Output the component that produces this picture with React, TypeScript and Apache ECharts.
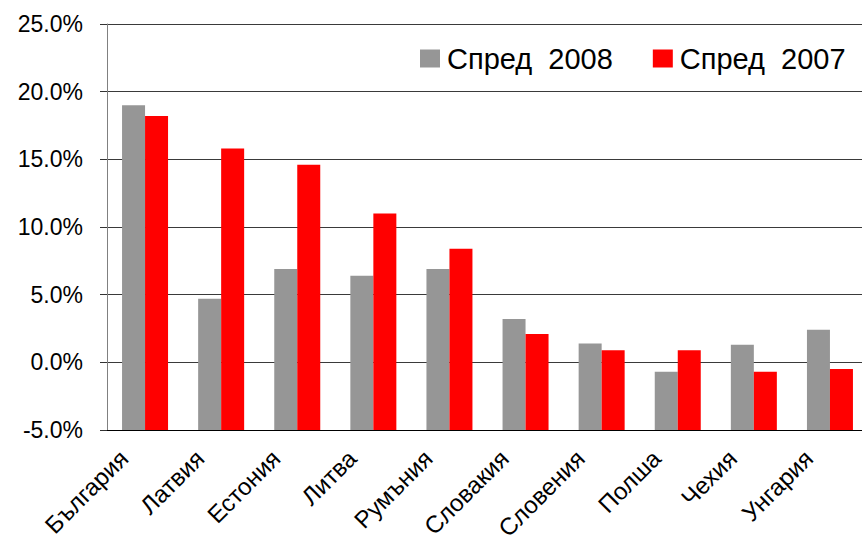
import React, { useEffect, useRef } from "react";
import * as echarts from "echarts";

const categories = ["България", "Латвия", "Естония", "Литва", "Румъния", "Словакия", "Словения", "Полша", "Чехия", "Унгария"];
const spread2008 = [19.0, 4.7, 6.9, 6.4, 6.9, 3.2, 1.4, -0.7, 1.3, 2.4];
const spread2007 = [18.2, 15.8, 14.6, 11.0, 8.4, 2.1, 0.9, 0.9, -0.7, -0.5];
const seriesNames = ["Спред  2008", "Спред  2007"];
const axisMin = -5;
const axisMax = 25;
const axisStep = 5;

const FONT = "'Liberation Sans', Arial, sans-serif";

export default function App() {
  const ref = useRef<HTMLDivElement>(null);
  useEffect(() => {
    document.body.style.margin = "0";
    const chart = echarts.init(ref.current!, null, { renderer: "svg" });
    // bars rise from the axis minimum (-5%), as in the original chart
    const shift = (arr: number[]) => arr.map((v) => +(v - axisMin).toFixed(3));
    chart.setOption({
      animation: false,
      backgroundColor: "#ffffff",
      textStyle: { fontFamily: FONT },
      legend: {
        left: 420,
        top: 44,
        padding: 0,
        itemWidth: 20,
        itemHeight: 18,
        itemGap: 40,
        icon: "rect",
        textStyle: { fontSize: 29, color: "#000", fontFamily: FONT, padding: [0, 0, 0, 2] },
        data: seriesNames,
      },
      grid: {
        left: 107,
        width: 761,
        top: 24,
        height: 406,
        containLabel: false,
        outerBoundsMode: "none",
      },
      xAxis: {
        type: "category",
        data: categories,
        axisLine: { show: true, lineStyle: { color: "#000", width: 1 } },
        axisTick: { show: false },
        axisLabel: {
          rotate: 45,
          fontSize: 24,
          color: "#000",
          margin: 3,
          interval: 0,
          padding: [0, 30, 0, 0],
          fontFamily: FONT,
        },
        splitLine: { show: false },
      },
      yAxis: {
        type: "value",
        min: 0,
        max: axisMax - axisMin,
        interval: axisStep,
        axisLine: { show: true, lineStyle: { color: "#808080", width: 1 } },
        axisTick: { show: true, inside: false, length: 7, lineStyle: { color: "#333" } },
        axisLabel: {
          fontSize: 23,
          color: "#000",
          margin: 24,
          fontFamily: FONT,
          formatter: (v: number) => (v + axisMin).toFixed(1) + "%",
        },
        splitLine: { show: true, lineStyle: { color: "#3a3a3a", width: 1 } },
      },
      series: [
        {
          name: seriesNames[0],
          type: "bar",
          data: shift(spread2008),
          barWidth: 23,
          barGap: "0%",
          itemStyle: { color: "#969696" },
        },
        {
          name: seriesNames[1],
          type: "bar",
          data: shift(spread2007),
          barWidth: 23,
          barGap: "0%",
          itemStyle: { color: "#ff0000" },
        },
      ],
    });
    return () => chart.dispose();
  }, []);
  return <div ref={ref} style={{ width: 862, height: 542 }} />;
}
